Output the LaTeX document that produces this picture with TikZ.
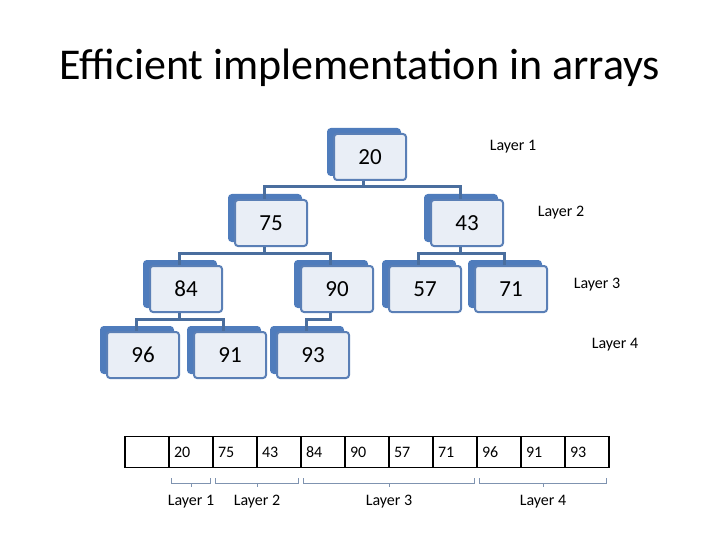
\documentclass[tikz,border=0pt]{standalone}
\usepackage{fontspec}
\setmainfont{Carlito}
\usetikzlibrary{positioning,shadows,calc}
\definecolor{boxfill}{HTML}{E9EEF6}
\definecolor{boxline}{HTML}{5A7FB6}
\definecolor{boxshade}{HTML}{4F7CBC}
\definecolor{linkcol}{HTML}{4A6E9E}
\definecolor{bracecol}{HTML}{7F93B0}
\newcommand{\layerbrace}[3]{% from, to, label
  \draw[brace] ([xshift=3pt,yshift=-10pt]#1.south west) -- ++(0,5)
    -| ([xshift=-3pt,yshift=-10pt]#2.south east);
  \draw[brace] ($(#1.south west)!0.5!(#2.south east)+(0,15)$) -- ++(0,4);
  \node[layer] at ($(#1.south west)!0.5!(#2.south east)+(0,33)$) {#3};
}
\begin{document}
\begin{tikzpicture}[x=1pt,y=-1pt,
    treenode/.style={draw=boxline,line width=2pt,fill=boxfill,rounded corners=3pt,
      minimum width=72pt,minimum height=46pt,font=\fontsize{23}{25}\selectfont,
      copy shadow={shadow xshift=-6pt,shadow yshift=5pt,fill=boxshade,draw=boxshade}},
    link/.style={draw=linkcol,line width=3pt},
    cell/.style={draw,line width=1.6pt,minimum width=44pt,minimum height=31pt,
      text width=34pt,align=left,font=\fontsize{16}{18}\selectfont,inner sep=4pt},
    brace/.style={draw=bracecol,line width=1pt},
    layer/.style={font=\fontsize{16}{18}\selectfont}
  ]
  \useasboundingbox (0,0) rectangle (720,540);
  \node at (360,68) {\fontsize{44}{50}\selectfont Efficient implementation in arrays};
  % tree
  \node[treenode] (n20) at (370,157) {20};
  \node[treenode] (n75) at (271,223) {75};
  \node[treenode] (n43) at (467,223) {43};
  \node[treenode] (n84) at (186,289) {84};
  \node[treenode] (n90) at (337,289) {90};
  \node[treenode] (n57) at (425,289) {57};
  \node[treenode] (n71) at (511,289) {71};
  \node[treenode] (n96) at (143,355) {96};
  \node[treenode] (n91) at (230,355) {91};
  \node[treenode] (n93) at (313,355) {93};
  \foreach \p/\c in {n20/n75,n20/n43,n75/n84,n75/n90,n43/n57,n43/n71,n84/n96,n84/n91,n90/n93}
    \draw[link] ([xshift=-7pt]\p.south) -- ++(0,6) -| ([xshift=-7pt]\c.north);
  \node[layer] at (513,147) {Layer 1};
  \node[layer] at (561,213) {Layer 2};
  \node[layer] at (597,285) {Layer 3};
  \node[layer] at (615,345) {Layer 4};
  % array
  \node[cell] (a0) at (147,452) {};
  \foreach \v [count=\i, remember=\i as \j (initially 0)] in {20,75,43,84,90,57,71,96,91,93}
    \node[cell,right=-1.6pt of a\j] (a\i) {\v};
  \layerbrace{a1}{a1}{Layer 1}
  \layerbrace{a2}{a3}{Layer 2}
  \layerbrace{a4}{a7}{Layer 3}
  \layerbrace{a8}{a10}{Layer 4}
\end{tikzpicture}
\end{document}
